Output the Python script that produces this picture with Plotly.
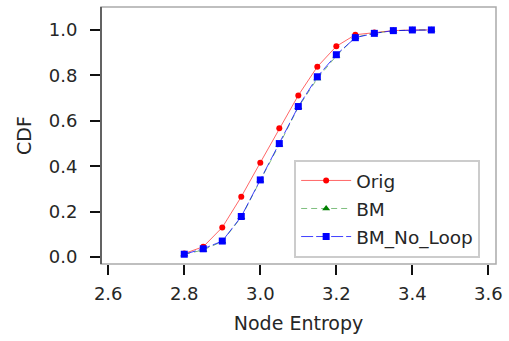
import plotly.graph_objects as go

# Node entropy grid points
entropy = [2.80, 2.85, 2.90, 2.95, 3.00, 3.05, 3.10, 3.15, 3.20, 3.25, 3.30, 3.35, 3.40, 3.45]

# CDF values per model
cdf_orig = [0.016, 0.046, 0.131, 0.266, 0.416, 0.567, 0.712, 0.838, 0.928, 0.979, 0.989, 0.997, 1.0, 1.0]
cdf_bm = [0.012, 0.032, 0.069, 0.176, 0.338, 0.495, 0.660, 0.786, 0.886, 0.968, 0.986, 0.996, 1.0, 1.0]
cdf_bm_no_loop = [0.013, 0.037, 0.071, 0.179, 0.340, 0.500, 0.663, 0.794, 0.891, 0.966, 0.985, 0.997, 1.0, 1.0]

x_ticks = [2.6, 2.8, 3.0, 3.2, 3.4, 3.6]
y_ticks = [0.0, 0.2, 0.4, 0.6, 0.8, 1.0]

TEXT = "#262626"
FONT = "DejaVu Sans"

fig = go.Figure()
fig.add_trace(go.Scatter(
    x=entropy, y=cdf_orig, name="Orig", mode="lines+markers",
    line=dict(color="rgba(255,0,0,0.6)", width=1),
    marker=dict(color="red", symbol="circle", size=6),
    legendgroup="a",
))
fig.add_trace(go.Scatter(
    x=entropy, y=cdf_bm, name="BM", mode="lines+markers",
    line=dict(color="rgba(0,128,0,0.5)", width=1, dash="6px,4px"),
    marker=dict(color="green", symbol="triangle-up", size=7),
    legendgroup="b",
))
fig.add_trace(go.Scatter(
    x=entropy, y=cdf_bm_no_loop, name="BM_No_Loop", mode="lines+markers",
    line=dict(color="rgba(0,0,255,0.75)", width=1, dash="12px,3px"),
    marker=dict(color="blue", symbol="square", size=7),
    legendgroup="c",
))

# Frame: dark left spine, light grey on the other sides
fig.add_shape(type="rect", xref="paper", yref="paper", x0=0, y0=0, x1=1, y1=1,
              line=dict(color="#aaaaaa", width=1.5), layer="above")
fig.add_shape(type="line", xref="paper", yref="paper", x0=0, y0=0, x1=0, y1=1,
              line=dict(color="#444444", width=1.5), layer="above")

fig.update_layout(
    width=509, height=341,
    margin=dict(l=101, r=13, t=7, b=77),
    paper_bgcolor="white", plot_bgcolor="white",
    font=dict(family=FONT, color=TEXT, size=17),
    showlegend=True,
    legend=dict(
        x=0.489, y=0.405, xanchor="left", yanchor="top",
        bgcolor="white", bordercolor="#cccccc", borderwidth=2,
        font=dict(family=FONT, size=18.5, color=TEXT),
        traceorder="grouped", tracegroupgap=1, itemwidth=50,
    ),
    xaxis=dict(
        range=[2.581, 3.620], tickvals=x_ticks, ticktext=[f"{v:.1f}" for v in x_ticks],
        showgrid=False, zeroline=False, showline=False,
        ticks="outside", ticklen=10, tickwidth=2, tickcolor="#111111",
        ticklabelstandoff=3,
        tickfont=dict(family=FONT, size=18, color=TEXT),
        title=dict(text="Node Entropy", font=dict(family=FONT, size=19, color=TEXT), standoff=14),
    ),
    yaxis=dict(
        range=[-0.030, 1.101], tickvals=y_ticks, ticktext=[f"{v:.1f}" for v in y_ticks],
        showgrid=False, zeroline=False, showline=False,
        ticks="outside", ticklen=10, tickwidth=2, tickcolor="#111111",
        ticklabelstandoff=9,
        tickfont=dict(family=FONT, size=18, color=TEXT),
        title=dict(text="CDF", font=dict(family=FONT, size=19, color=TEXT), standoff=12),
    ),
)

fig.write_html("out.html")
